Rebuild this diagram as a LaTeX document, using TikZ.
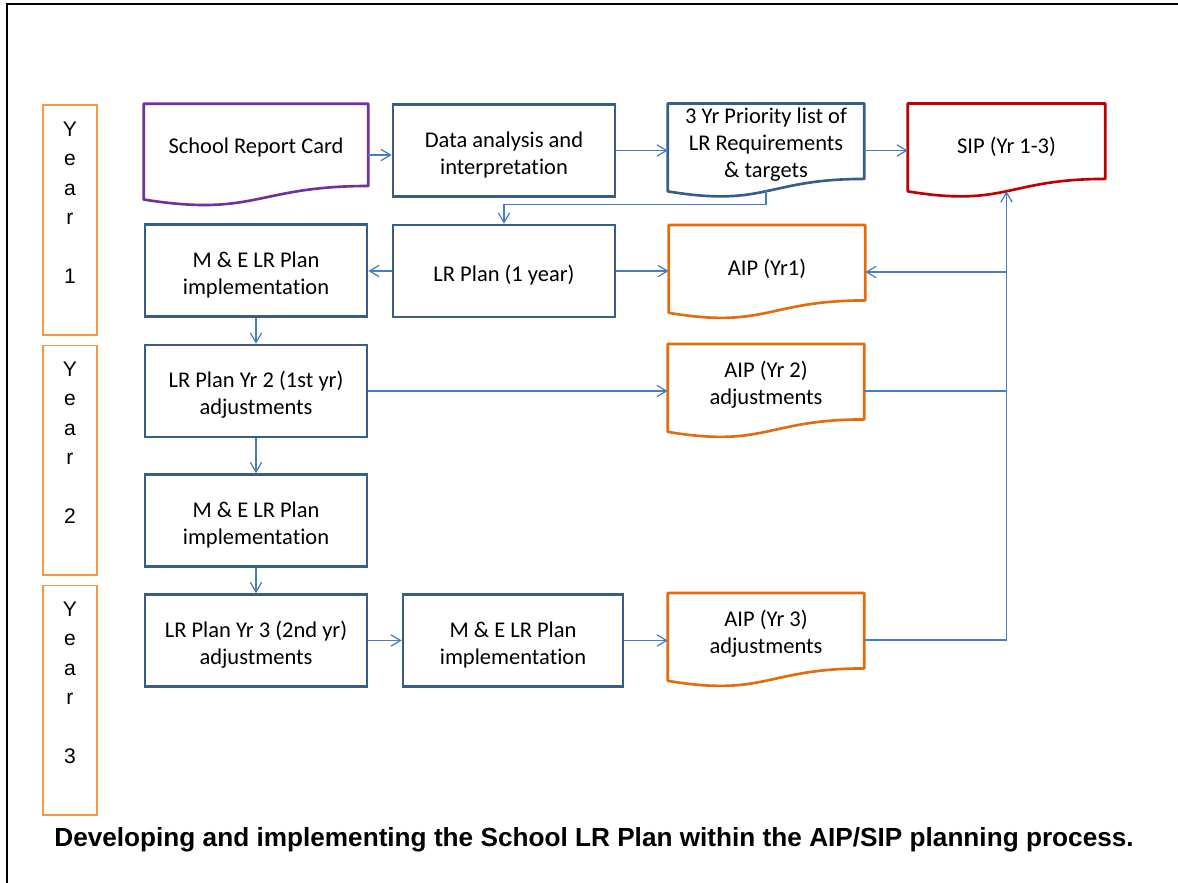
\documentclass[tikz,border=0pt]{standalone}
\usepackage{fontspec}
\setmainfont{Carlito}[Ligatures={NoCommon}]
\newfontfamily\arialfont{Liberation Sans}
\usepackage{tikz}
\usetikzlibrary{calc,arrows.meta}

\definecolor{boxblue}{HTML}{385D8A}
\definecolor{srcpurple}{HTML}{7030A0}
\definecolor{sipred}{HTML}{C00000}
\definecolor{aiporange}{HTML}{E46C0A}
\definecolor{yearorange}{HTML}{F79646}
\definecolor{linkblue}{HTML}{4A7EBB}

\tikzset{
  box/.style={draw=boxblue, line width=1.5pt, minimum width=4.44cm, minimum height=1.84cm,
    align=center, inner sep=2pt, font=\fontsize{12.8}{15.5}\selectfont,
    execute at begin node={\rule{0pt}{#1}}},
  box/.default=14.3pt,
  docbox/.style={minimum width=3.88cm, minimum height=1.83cm, inner sep=0pt, outer sep=0.75pt},
  doctext/.style={align=center, inner sep=0pt, font=\fontsize{12.8}{15.5}\selectfont},
  yearbox/.style={draw=yearorange, line width=0.6pt, minimum width=1.08cm, minimum height=4.6cm},
  yeartext/.style={anchor=north, align=center, inner sep=0pt,
    font=\arialfont\fontsize{12}{16.7}\selectfont},
  link/.style={draw=linkblue, line width=0.7pt},
  conn/.style={link, -{Straight Barb[length=5.5pt,width=6.5pt]}},
  caption/.style={font=\arialfont\bfseries\fontsize{14.9}{18}\selectfont}
}

% outline of a "document" shape round a node
\newcommand{\docoutline}[2]{%
  \draw[#2, line width=1.5pt, line join=round]
    (#1.north west) -- (#1.north east)
    -- ($(#1.north east)!0.802!(#1.south east)$)
    .. controls ($(#1.north)!0.802!(#1.south)$) and ($(#1.north)!1.1075!(#1.south)$)
    .. ($(#1.north west)!0.934!(#1.south west)$) -- cycle;}

\begin{document}
\begin{tikzpicture}[x=0.02cm,y=-0.02cm]
  \useasboundingbox (0,0) rectangle (1178,883);
  % frame
  \draw[line width=1pt] (7,883) -- (7,4) -- (1178,4);

  % years
  \node[yearbox] (yr1) at (70,220) {};
  \node[yearbox] (yr2) at (70,460) {};
  \node[yearbox] (yr3) at (70,700) {};
  \node[yeartext] (yr1txt) at ($(yr1.north)+(0,17)$) {Y\\e\\a\\r\\[16.7pt]1};
  \node[yeartext] (yr2txt) at ($(yr2.north)+(0,17)$) {Y\\e\\a\\r\\[16.7pt]2};
  \node[yeartext] (yr3txt) at ($(yr3.north)+(0,17)$) {Y\\e\\a\\r\\[16.7pt]3};

  % documents
  \node[docbox, minimum width=4.44cm, minimum height=2cm] (src) at (256,155) {};
  \node[docbox] (prio) at (766,150.5) {};
  \node[docbox, minimum width=3.9cm] (sip) at (1006.5,150.5) {};
  \node[docbox] (aip1) at (767,272) {};
  \node[docbox] (aip2) at (766,391) {};
  \node[docbox] (aip3) at (766,640) {};
  \docoutline{src}{srcpurple}
  \docoutline{prio}{boxblue}
  \docoutline{sip}{sipred}
  \docoutline{aip1}{aiporange}
  \docoutline{aip2}{aiporange}
  \docoutline{aip3}{aiporange}
  \node[doctext] (srctxt) at ($(src.north)!0.43!(src.south)$) {School Report Card};
  \node[doctext] (priotxt) at ($(prio.north)!0.44!(prio.south)$) {3 Yr Priority list of\\LR Requirements\\\& targets};
  \node[doctext] (siptxt) at ($(sip.north)!0.465!(sip.south)$) {SIP (Yr 1-3)};
  \node[doctext] (aip1txt) at ($(aip1.north)!0.465!(aip1.south)$) {AIP (Yr1)};
  \node[doctext] (aip2txt) at ($(aip2.north)!0.43!(aip2.south)$) {AIP (Yr 2)\\adjustments};
  \node[doctext] (aip3txt) at ($(aip3.north)!0.43!(aip3.south)$) {AIP (Yr 3)\\adjustments};

  % process boxes
  \node[box=29.5pt] (data) at (504,150.5) {Data analysis and\\interpretation};
  \node[box=29.5pt] (mel1) at (256,270.5) {M \& E LR Plan\\implementation};
  \node[box] (lrplan) at (504,271) {LR Plan (1 year)};
  \node[box=29.5pt] (lryr2) at (256,391) {LR Plan Yr 2 (1st yr)\\adjustments};
  \node[box=29.5pt] (me2) at (256,520.5) {M \& E LR Plan\\implementation};
  \node[box=29.5pt] (lryr3) at (256,640.5) {LR Plan Yr 3 (2nd yr)\\adjustments};
  \node[box=29.5pt, minimum width=4.4cm] (me3) at (513,640.5) {M \& E LR Plan\\implementation};

  % connectors
  \coordinate (priob) at ($(prio.north)!0.934!(prio.south)$);
  \coordinate (sipb) at ($(sip.north)!0.934!(sip.south)$);
  \draw[conn] (src.east) -- (src.east -| data.west);
  \draw[conn] (data.east) -- (data.east -| prio.west);
  \draw[conn] (prio.east) -- (sip.west);
  \draw[conn] (priob) -- ++(0,13) -| (lrplan.north);
  \draw[conn] (lrplan.west) -- (lrplan.west -| mel1.east);
  \draw[conn] (lrplan.east) -- (lrplan.east -| aip1.west);
  \draw[conn] (mel1.south) -- (lryr2.north);
  \draw[conn] (lryr2.east) -- (lryr2.east -| aip2.west);
  \draw[conn] (lryr2.south) -- (me2.north);
  \draw[conn] (me2.south) -- (lryr3.north);
  \draw[conn] (lryr3.east) -- (lryr3.east -| me3.west);
  \draw[conn] (me3.east) -- (me3.east -| aip3.west);
  % bus to the SIP
  \draw[link] (aip3.east) -- (aip3.east -| sipb);
  \draw[conn] (aip3.east -| sipb) -- (sipb);
  \draw[link] (aip2.east) -- (aip2.east -| sipb);
  \draw[conn] (aip1.east -| sipb) -- (aip1.east);

  \node[caption] (cap) at (594,840) {Developing and implementing the School LR Plan within the AIP/SIP planning process.};
\end{tikzpicture}
\end{document}
